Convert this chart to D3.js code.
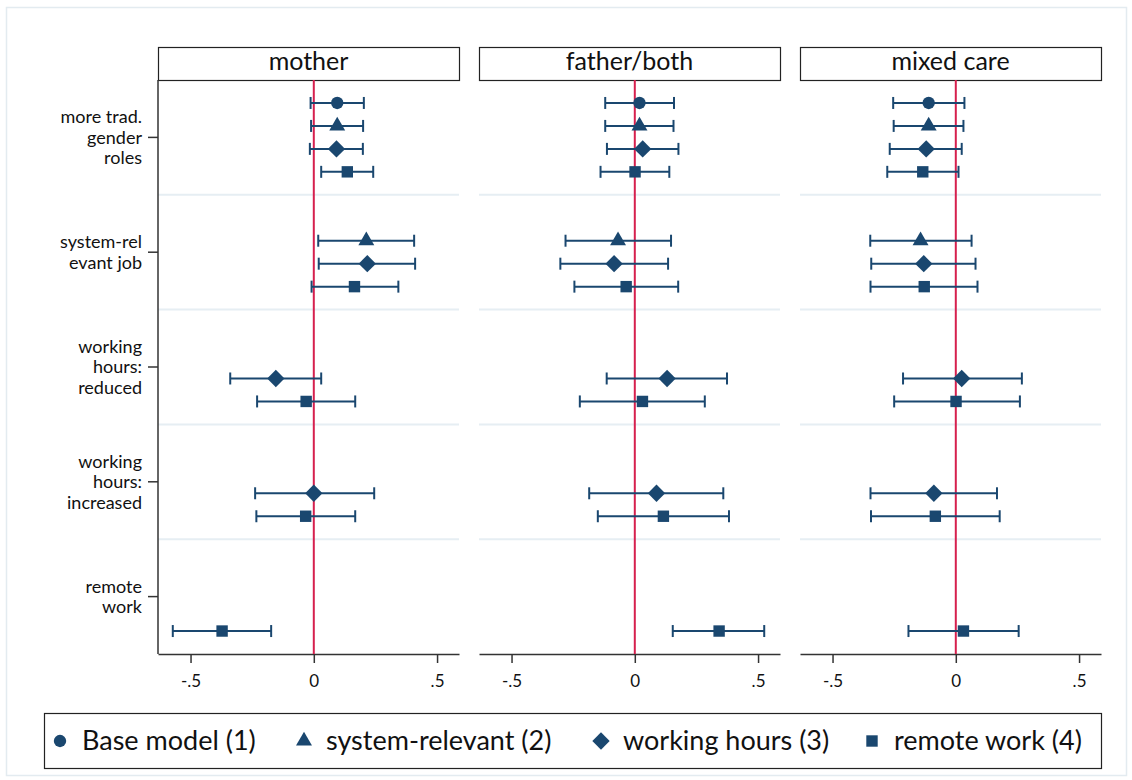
<!DOCTYPE html>
<html><head><meta charset="utf-8">
<script src="https://cdn.jsdelivr.net/npm/d3@7"></script>
<style>body{margin:0;background:#fff;} svg{display:block;font-family:Lato,"Open Sans",sans-serif;}</style>
</head><body>
<svg id="chart" width="1132" height="780"></svg>
<script>
const panels = ["mother", "father/both", "mixed care"];
const categories = [["more trad.", "gender", "roles"], ["system-rel", "evant job"], ["working", "hours:", "reduced"], ["working", "hours:", "increased"], ["remote", "work"]];
const seriesNames = ["Base model (1)", "system-relevant (2)", "working hours (3)", "remote work (4)"];
const seriesShapes = ["circle", "triangle", "diamond", "square"];
const xTicks = [-0.5, 0, 0.5];
const xTickLabels = ["-.5", "0", ".5"];
// rows: [category, series, estimate, lower, upper]
const motherCoefs = [
  [0, 0, 0.095, -0.013, 0.203], [0, 1, 0.095, -0.011, 0.200], [0, 2, 0.092, -0.016, 0.199], [0, 3, 0.136, 0.030, 0.241],
  [1, 1, 0.213, 0.018, 0.407], [1, 2, 0.217, 0.020, 0.411], [1, 3, 0.165, -0.009, 0.343],
  [2, 2, -0.154, -0.339, 0.030], [2, 3, -0.031, -0.230, 0.168],
  [3, 2, 0.000, -0.238, 0.245], [3, 3, -0.033, -0.233, 0.168],
  [4, 3, -0.372, -0.572, -0.173]
];
const fatherCoefs = [
  [0, 0, 0.019, -0.120, 0.159], [0, 1, 0.019, -0.120, 0.157], [0, 2, 0.032, -0.113, 0.177], [0, 3, 0.001, -0.139, 0.140],
  [1, 1, -0.068, -0.281, 0.147], [1, 2, -0.084, -0.302, 0.135], [1, 3, -0.035, -0.245, 0.176],
  [2, 2, 0.131, -0.114, 0.374], [2, 3, 0.031, -0.223, 0.284],
  [3, 2, 0.088, -0.185, 0.359], [3, 3, 0.116, -0.150, 0.382],
  [4, 3, 0.342, 0.154, 0.525]
];
const mixedCoefs = [
  [0, 0, -0.110, -0.254, 0.035], [0, 1, -0.110, -0.252, 0.031], [0, 2, -0.120, -0.268, 0.024], [0, 3, -0.134, -0.278, 0.011],
  [1, 1, -0.143, -0.347, 0.064], [1, 2, -0.130, -0.343, 0.080], [1, 3, -0.128, -0.346, 0.088],
  [2, 2, 0.024, -0.214, 0.268], [2, 3, 0.001, -0.250, 0.260],
  [3, 2, -0.089, -0.346, 0.167], [3, 3, -0.083, -0.344, 0.178],
  [4, 3, 0.031, -0.192, 0.255]
];
const panelData = [motherCoefs, fatherCoefs, mixedCoefs];

const navy = "#1a476f", red = "#d6204e", grid = "#e6eef3";
const svg = d3.select("#chart");
svg.append("rect").attr("x", 6.5).attr("y", 7.5).attr("width", 1120).attr("height", 768)
  .attr("fill", "#fff").attr("stroke", "#e3ebf0").attr("stroke-width", 1.5);

const plotTop = 80, plotBottom = 654, pw = 301;
const panelX = [158, 479, 800];
const y = d3.scaleLinear().domain([0, categories.length]).range([plotTop, plotBottom]);
const symSize = {circle: 120, triangle: 110, diamond: 150, square: 130};
const symType = {circle: d3.symbolCircle, triangle: d3.symbolTriangle, diamond: d3.symbolSquare, square: d3.symbolSquare};
function drawSym(g, shape, cx, cy, scale) {
  const s = scale || 1;
  const p = g.append("path").attr("d", d3.symbol().type(symType[shape]).size(symSize[shape] * s)())
    .attr("fill", navy);
  if (shape === "diamond") p.attr("transform", `translate(${cx},${cy}) rotate(45)`);
  else p.attr("transform", `translate(${cx},${cy})`);
}

panels.forEach((name, pi) => {
  const x0 = panelX[pi];
  const x = d3.scaleLinear().domain([-0.632, 0.589]).range([x0, x0 + pw]);
  const g = svg.append("g");
  d3.range(1, categories.length).forEach(i => {
    g.append("line").attr("x1", x0).attr("x2", x0 + pw).attr("y1", y(i)).attr("y2", y(i))
      .attr("stroke", grid).attr("stroke-width", 2);
  });
  g.append("rect").attr("x", x0 + 0.5).attr("y", 47.5).attr("width", pw).attr("height", 33)
    .attr("fill", "#fff").attr("stroke", "#222").attr("stroke-width", 1.2);
  g.append("text").attr("x", x0 + pw / 2).attr("y", 70).attr("text-anchor", "middle")
    .attr("font-size", 25).attr("fill", "#111").text(name);
  const ax = d3.axisBottom(x).tickValues(xTicks).tickFormat((d, i) => xTickLabels[i]).tickSize(9).tickSizeOuter(0);
  const axg = g.append("g").attr("transform", `translate(0,${plotBottom})`).call(ax);
  axg.select(".domain").attr("stroke", "#333").attr("stroke-width", 1.5);
  axg.selectAll(".tick line").attr("stroke", "#333").attr("stroke-width", 1.5);
  axg.selectAll(".tick text").attr("font-size", 17).attr("font-family", "Lato, sans-serif").attr("fill", "#111")
    .attr("y", 33).attr("dy", 0);
  g.append("line").attr("x1", x(0)).attr("x2", x(0)).attr("y1", plotTop).attr("y2", plotBottom)
    .attr("stroke", red).attr("stroke-width", 2);
  panelData[pi].forEach(([c, s, b, lo, hi]) => {
    const cy = y(c + 0.5 + (s - 1.5) * 0.2);
    g.append("line").attr("x1", x(lo)).attr("x2", x(hi)).attr("y1", cy).attr("y2", cy)
      .attr("stroke", navy).attr("stroke-width", 2);
    [lo, hi].forEach(v => g.append("line").attr("x1", x(v)).attr("x2", x(v)).attr("y1", cy - 6).attr("y2", cy + 6)
      .attr("stroke", navy).attr("stroke-width", 2));
    drawSym(g, seriesShapes[s], x(b), cy);
  });
  if (pi === 0) {
    g.append("line").attr("x1", x0).attr("x2", x0).attr("y1", plotTop).attr("y2", plotBottom)
      .attr("stroke", "#333").attr("stroke-width", 1.5);
    categories.forEach((lines, i) => {
      const cy = y(i + 0.5);
      g.append("line").attr("x1", x0 - 10).attr("x2", x0).attr("y1", cy).attr("y2", cy)
        .attr("stroke", "#333").attr("stroke-width", 1.5);
      const t = g.append("text").attr("text-anchor", "end").attr("font-size", 18).attr("fill", "#111");
      const lh = 20.5, start = cy - (lines.length - 1) * lh / 2;
      lines.forEach((l, j) => t.append("tspan").attr("x", x0 - 16).attr("y", start + j * lh).attr("dy", "0.35em").text(l));
    });
  }
});

const lg = svg.append("g");
lg.append("rect").attr("x", 44.5).attr("y", 713.5).attr("width", 1057).attr("height", 55)
  .attr("fill", "#fff").attr("stroke", "#222").attr("stroke-width", 1.2);
const legX = [60, 304, 601, 872];
seriesNames.forEach((n, i) => {
  drawSym(lg, seriesShapes[i], legX[i], 741, 1);
  lg.append("text").attr("x", legX[i] + 22).attr("y", 741).attr("dy", "0.35em")
    .attr("font-size", 27).attr("fill", "#111").text(n);
});
</script>
</body></html>
